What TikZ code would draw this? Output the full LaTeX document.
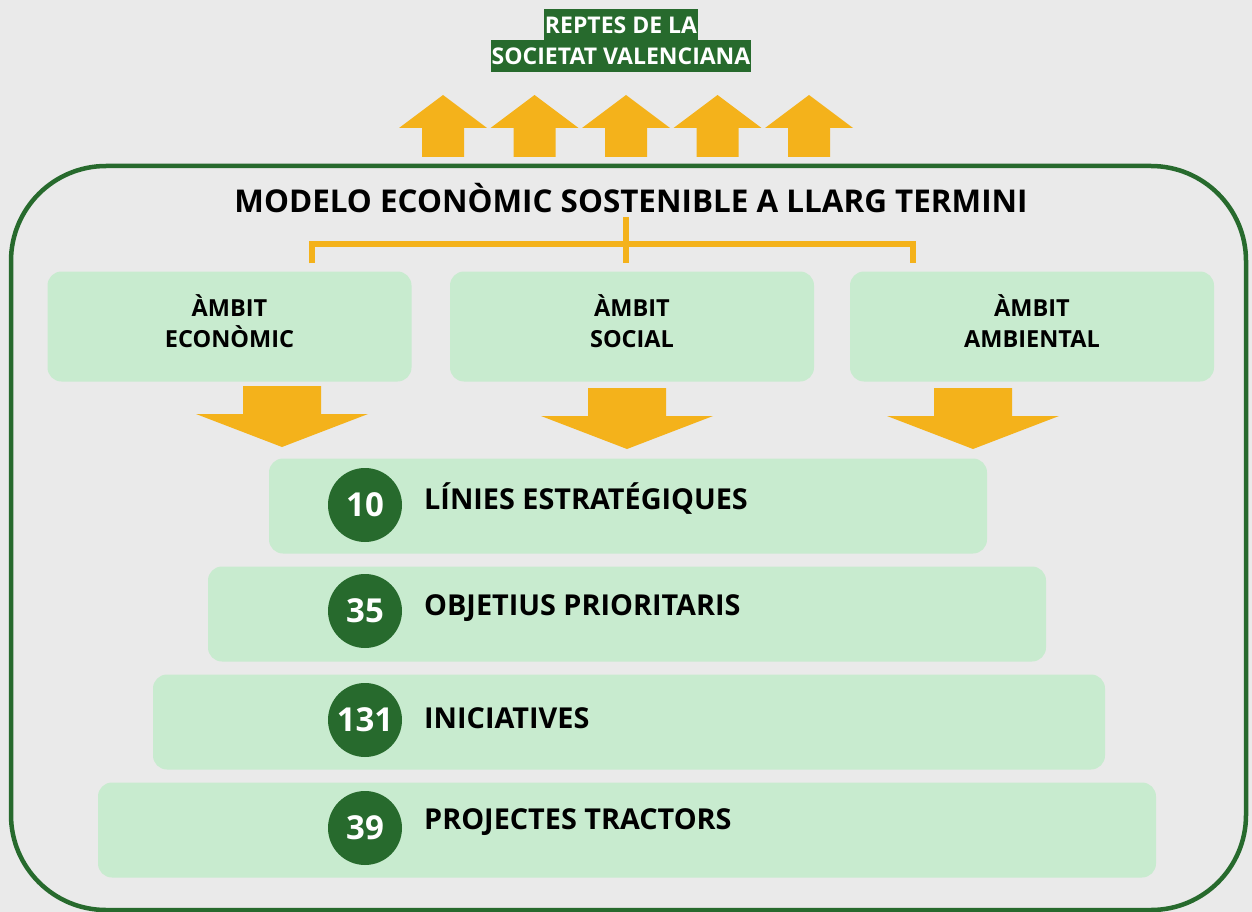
\documentclass[tikz,border=0pt]{standalone}
\usepackage{fontspec}
\setmainfont{Open Sans}
\definecolor{bg}{HTML}{EAEAEA}
\definecolor{dgreen}{HTML}{276A2D}
\definecolor{lgreen}{HTML}{C8EBCF}
\definecolor{orng}{HTML}{F4B21B}
\begin{document}
\begin{tikzpicture}[x=1pt,y=-1pt,
  hl/.style={fill=dgreen,text=white,font=\bfseries\fontsize{23}{27}\selectfont,inner xsep=1pt,inner ysep=0pt,minimum height=32pt,anchor=center},
  ambit/.style={fill=lgreen,rounded corners=14pt,minimum width=364pt,minimum height=110pt},
  ambtxt/.style={align=center,font=\bfseries\fontsize{23.5}{31}\selectfont,text=black,inner sep=0pt},
  bar/.style={fill=lgreen,rounded corners=14pt,minimum height=95pt},
  num/.style={circle,fill=dgreen,minimum size=74pt,inner sep=0pt,text=white,font=\bfseries\fontsize{33}{36}\selectfont},
  lab/.style={anchor=west,font=\bfseries\fontsize{28.8}{32}\selectfont,text=black,inner sep=0pt},
  brk/.style={draw=orng,line width=6pt},
]
\useasboundingbox (0,0) rectangle (1252,912);
\fill[bg] (0,0) rectangle (1252,912);

% top title
\node[hl] (t1) at (621,25) {REPTES DE LA};
\node[hl] (t2) at (621,56.5) {SOCIETAT VALENCIANA};

% up arrows
\foreach \c in {443,534.5,626,717.5,809}{
  \fill[orng] (\c,95) -- (\c+44,128) -- (\c+21,128) -- (\c+21,157) -- (\c-21,157) -- (\c-21,128) -- (\c-44,128) -- cycle;
}

% frame
\draw[dgreen,line width=4.5pt,rounded corners=95pt] (11,166) rectangle (1246,910);

% main title
\node[font=\bfseries\fontsize{31.4}{34}\selectfont,inner sep=0pt] (main) at (631,198) {MODELO ECONÒMIC SOSTENIBLE A LLARG TERMINI};

% ambit boxes
\node[ambit] (a1) at (229.5,326.5) {};
\node[ambit] (a2) at (632,326.5) {};
\node[ambit] (a3) at (1032,326.5) {};
\node[ambtxt] (a1t) at ([yshift=5pt]a1.center) {ÀMBIT\\ECONÒMIC};
\node[ambtxt] (a2t) at ([yshift=5pt]a2.center) {ÀMBIT\\SOCIAL};
\node[ambtxt] (a3t) at ([yshift=5pt]a3.center) {ÀMBIT\\AMBIENTAL};

% bracket
\coordinate (bl) at (312,244);
\coordinate (br) at (913,244);
\coordinate (bm) at (626,244);
\draw[brk] (bl |- a1.north) ++(0,-8) -- (bl) -- (br) -- ([yshift=8pt]br |- a3.north);
\draw[brk] (bm |- main.south) ++(0,4) -- ([yshift=8pt]bm |- a2.north);

% down arrows
\foreach \c/\t in {282/386,627/388,973/388}{
  \fill[orng] (\c-39,\t) -- (\c+39,\t) -- (\c+39,\t+28) -- (\c+86,\t+28) -- (\c,\t+61) -- (\c-86,\t+28) -- (\c-39,\t+28) -- cycle;
}

% bars
\node[bar,minimum width=718pt] (b1) at (628,506) {};
\node[bar,minimum width=838pt] (b2) at (627,614) {};
\node[bar,minimum width=952pt] (b3) at (629,722) {};
\node[bar,minimum width=1058pt] (b4) at (627,830) {};

\node[num] (n1) at (365,505) {10};
\node[num] (n2) at (365,611) {35};
\node[num] (n3) at (365,720) {131};
\node[num] (n4) at (365,828) {39};

\node[lab] (l1) at (424,499) {LÍNIES ESTRATÉGIQUES};
\node[lab] (l2) at (424,608) {OBJETIUS PRIORITARIS};
\node[lab] (l3) at (424,718) {INICIATIVES};
\node[lab] (l4) at (424,822) {PROJECTES TRACTORS};
\end{tikzpicture}
\end{document}
